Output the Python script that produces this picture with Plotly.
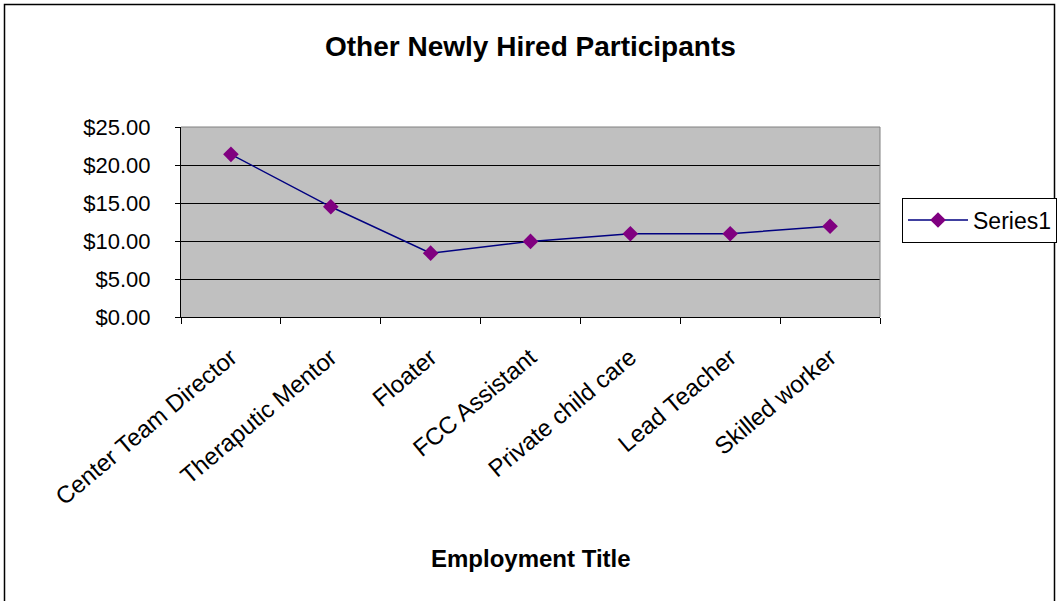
import plotly.graph_objects as go

categories = ["Center Team Director", "Theraputic Mentor", "Floater", "FCC Assistant",
              "Private child care", "Lead Teacher", "Skilled worker"]
wages = [21.4, 14.5, 8.4, 9.95, 10.95, 10.95, 11.95]
y_ticks = [0, 5, 10, 15, 20, 25]
y_tick_labels = ["$0.00", "$5.00", "$10.00", "$15.00", "$20.00", "$25.00"]

FONT = "Liberation Sans, Arial, sans-serif"

fig = go.Figure()
fig.add_trace(go.Scatter(
    x=categories, y=wages, mode="lines+markers", name="Series1",
    line=dict(color="#000080", width=1.5),
    marker=dict(symbol="diamond", size=12, color="#800080"),
))

W, H = 1057, 601
L, R, T, B = 181, 880, 127, 317
pw, ph = R - L, B - T

def px(x):
    return (x - L) / pw

def py(y):
    return (B - y) / ph

fig.update_layout(
    width=W, height=H,
    margin=dict(l=L, r=W - R, t=T, b=H - B, autoexpand=False),
    paper_bgcolor="white", plot_bgcolor="#C0C0C0",
    font=dict(family=FONT, size=22, color="black"),
    showlegend=True,
    legend=dict(x=px(902), y=py(220), xanchor="left", yanchor="middle",
                bordercolor="black", borderwidth=1, bgcolor="white",
                itemwidth=60,
                font=dict(size=23, family=FONT)),
    xaxis=dict(type="category", tickangle=-40, showgrid=False, automargin=False,
               showline=True, linecolor="black", linewidth=1,
               ticks="outside", ticklen=6, tickcolor="black", tickson="boundaries",
               ticklabelstandoff=16,
               tickfont=dict(size=24, family=FONT), range=[-0.5, 6.5]),
    yaxis=dict(range=[0, 25], tickvals=y_ticks, ticktext=y_tick_labels, automargin=False,
               showgrid=True, gridcolor="black", gridwidth=1,
               showline=True, linecolor="black", linewidth=1,
               ticks="outside", ticklen=5, tickcolor="black",
               ticklabelstandoff=20,
               tickfont=dict(size=22, family=FONT), zeroline=False),
    annotations=[
        dict(text="<b>Other Newly Hired Participants</b>", xref="paper", yref="paper",
             x=px(530), y=py(46), showarrow=False, xanchor="center", yanchor="middle",
             font=dict(size=28, family=FONT)),
        dict(text="<b>Employment Title</b>", xref="paper", yref="paper",
             x=px(531), y=py(558), showarrow=False, xanchor="center", yanchor="middle",
             font=dict(size=24, family=FONT)),
    ],
    shapes=[
        dict(type="line", xref="paper", yref="paper", x0=0, x1=1, y0=1, y1=1,
             line=dict(color="#808080", width=1)),
        dict(type="line", xref="paper", yref="paper", x0=1, x1=1, y0=0, y1=1,
             line=dict(color="#808080", width=1)),
        dict(type="rect", xref="paper", yref="paper", x0=px(4.5), x1=px(1054.5),
             y0=py(640), y1=py(4.5), line=dict(color="black", width=1.5),
             fillcolor="rgba(0,0,0,0)", layer="above"),
    ],
)

fig.write_html("out.html")
